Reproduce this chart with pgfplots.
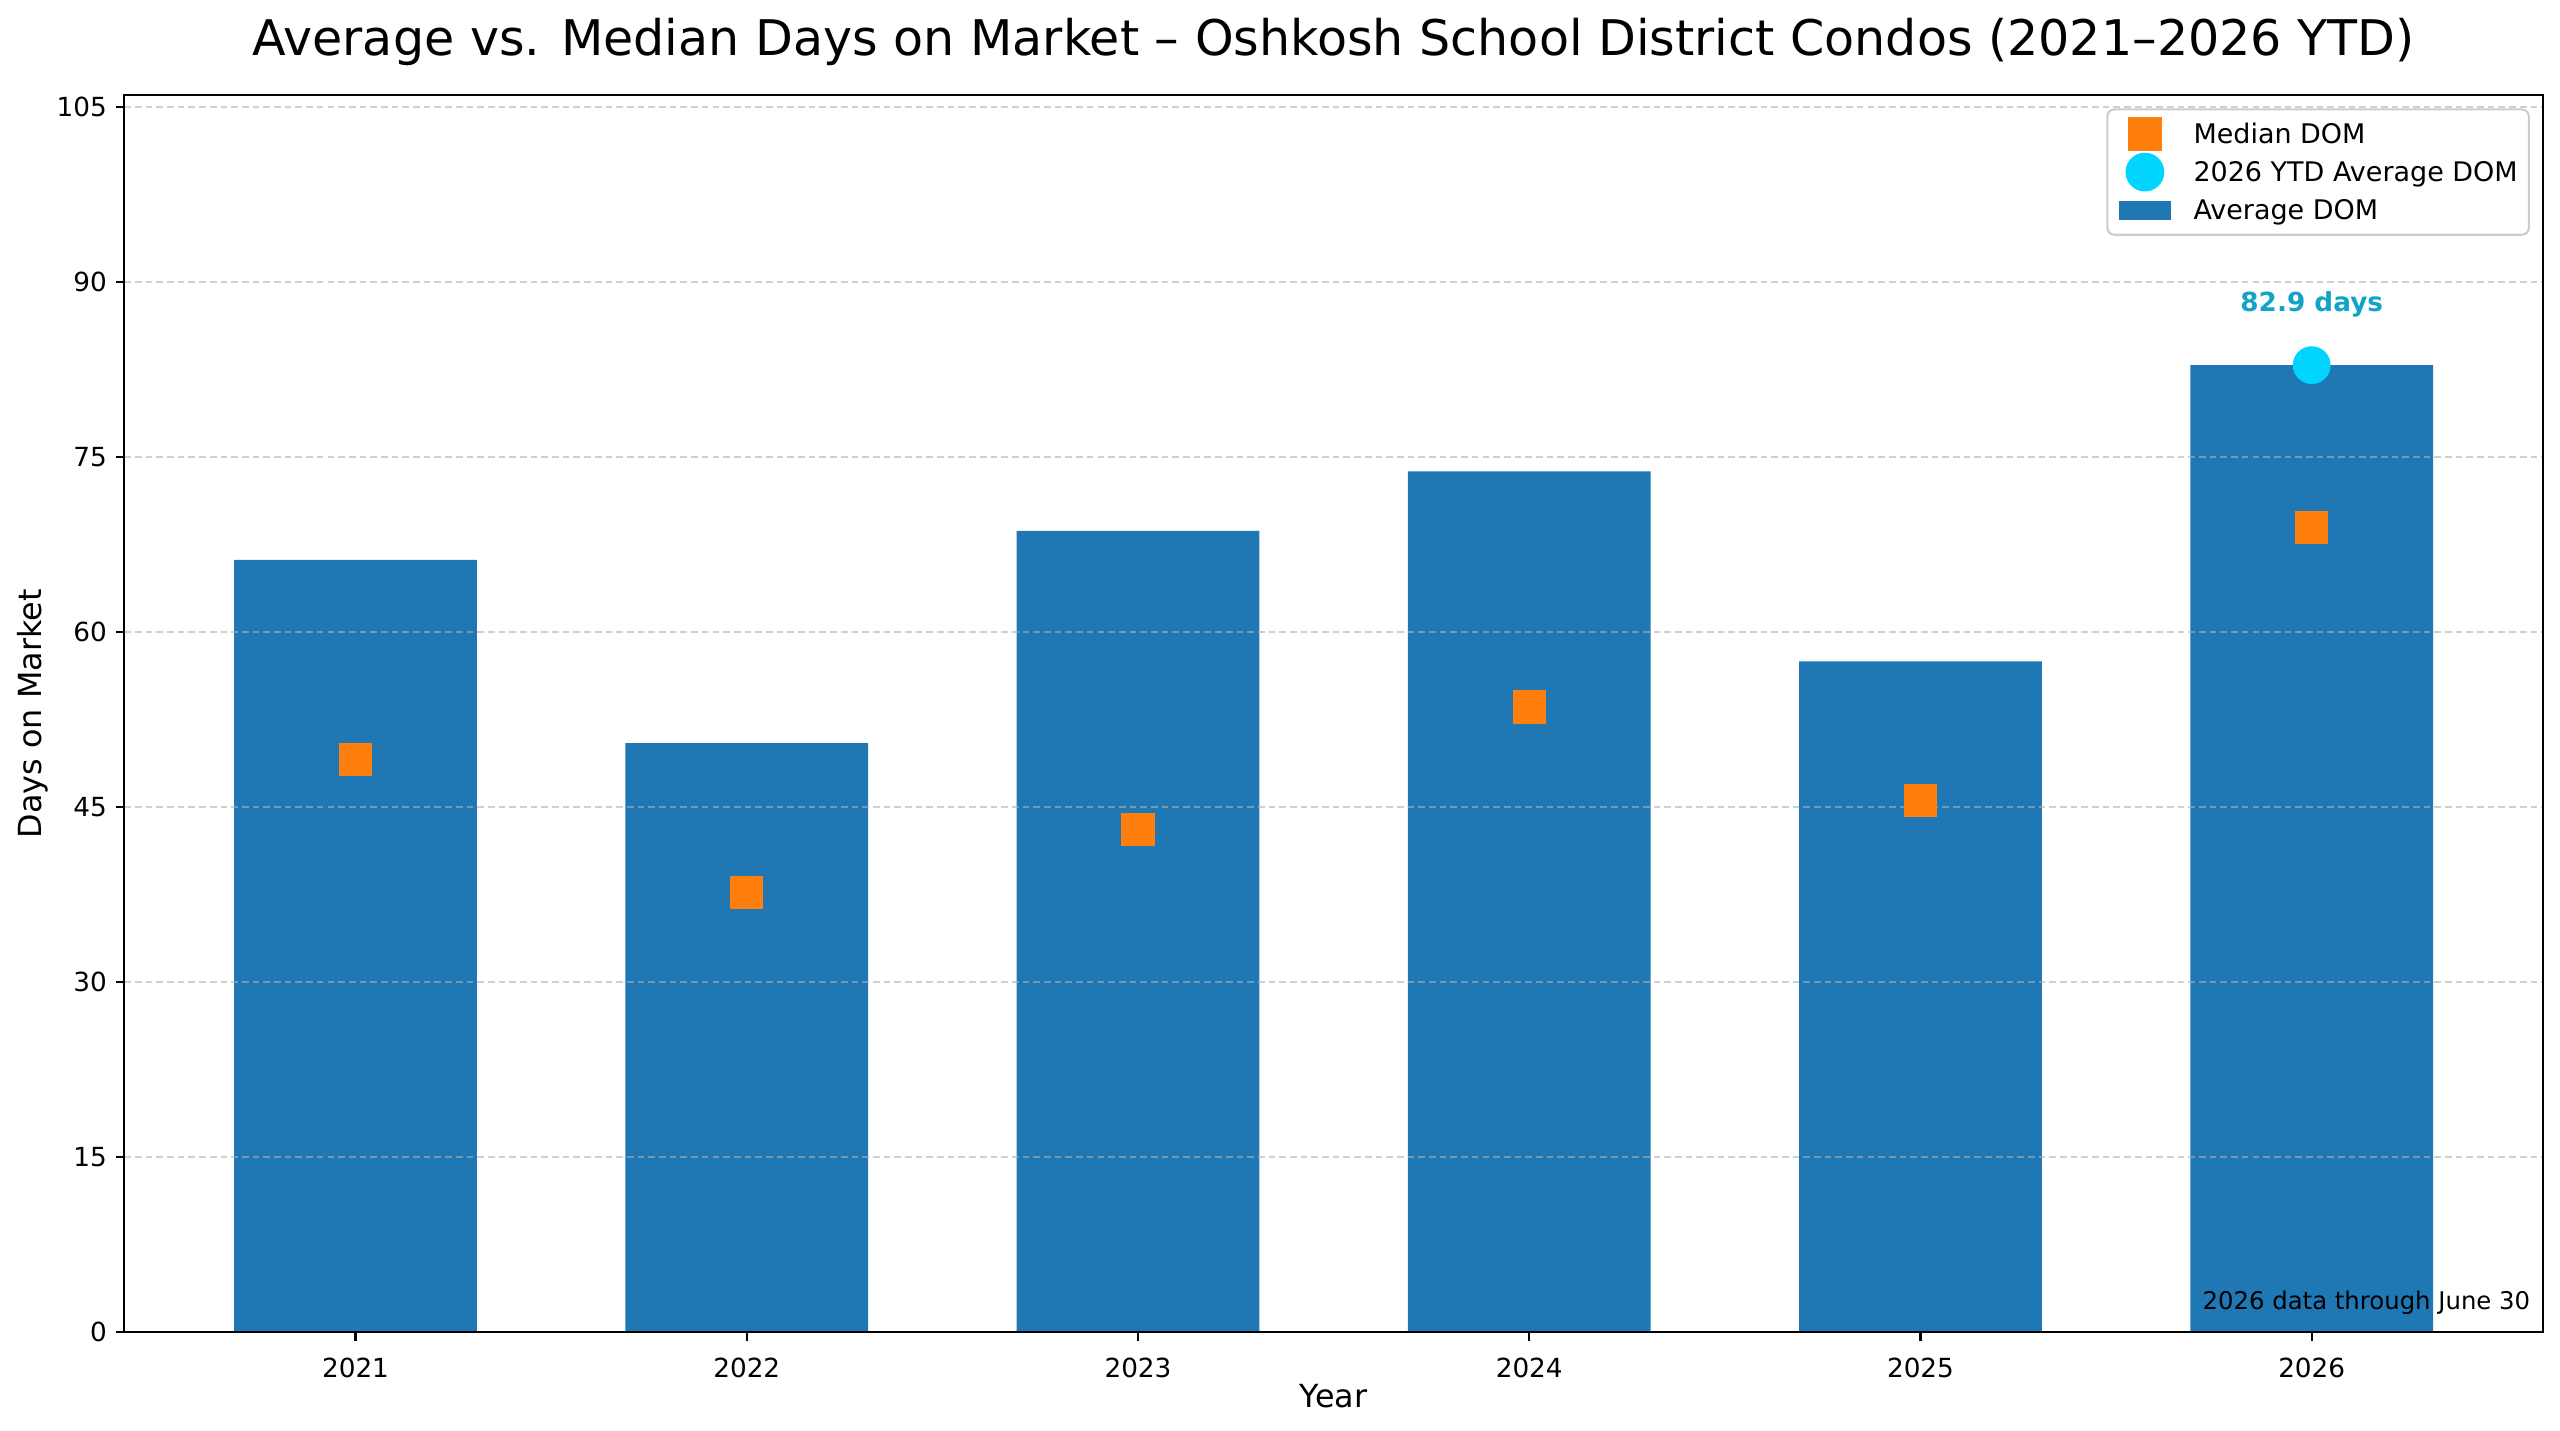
\documentclass[border=0pt]{standalone}
\usepackage{pgfplots}
\pgfplotsset{compat=1.18}
\usepackage{fontspec}
\setmainfont{DejaVu Sans}
\newfontfamily\boldff{DejaVu Sans Bold}
\definecolor{barblue}{HTML}{1F77B4}
\definecolor{medorange}{HTML}{FF7F0E}
\definecolor{ytdcyan}{HTML}{00D4FF}
\definecolor{annot}{HTML}{12A4C6}
\pgfplotsset{
  markleg/.style={legend image code/.code={\draw[mark repeat=2,mark phase=2,##1] plot coordinates {(0bp,0bp) (9.5bp,0bp) (19bp,0bp)};}},
  barleg/.style={legend image code/.code={\fill[barblue, sharp corners] (0bp,-3.4bp) rectangle (19bp,3.4bp);}},
}
\begin{document}
\begin{tikzpicture}
\path[use as bounding box] (-44.75bp,-35.53bp) rectangle (876.85bp,479.63bp);
\begin{axis}[
  scale only axis,
  width=870.7bp, height=445.4bp,
  xmin=-0.591, xmax=5.591,
  ymin=0, ymax=106.05,
  xtick={0,1,2,3,4,5},
  xticklabels={2021,2022,2023,2024,2025,2026},
  ytick={0,15,30,45,60,75,90,105},
  xtick pos=bottom, ytick pos=left,
  tick align=outside,
  major tick length=3bp,
  tick style={black, line width=0.75bp},
  axis line style={black, line width=0.75bp},
  /pgf/number format/assume math mode=true,
  ticklabel style={font=\fontsize{9.5}{11}\selectfont},
  xticklabel style={anchor=north, inner sep=0pt, yshift=-6.2bp},
  yticklabel style={anchor=east, inner sep=0pt, xshift=-3.1bp},
  ymajorgrids,
  major grid style={draw=black!31, opacity=0.6, line width=0.7bp, dash pattern=on 2.4bp off 1.45bp},
  axis on top,
  xlabel={Year},
  ylabel={Days on Market},
  label style={font=\fontsize{11.5}{13}\selectfont},
  xlabel style={at={([yshift=-27bp]rel axis cs:0.5,0)}, anchor=base, inner sep=0pt},
  ylabel style={at={([xshift=-29.7bp]rel axis cs:0,0.5)}, anchor=base, inner sep=0pt},
  every axis title shift=0pt,
  title={Average vs. Median Days on Market – Oshkosh School District Condos (2021–2026 YTD)},
  title style={at={([yshift=14.4bp]rel axis cs:0.5,1)}, anchor=base, inner sep=0pt, font=\fontsize{17.75}{20}\selectfont},
  reverse legend,
  legend style={at={(rel axis cs:1,1)}, anchor=north east, xshift=-4.7bp, yshift=-4.8bp,
    draw=black!20, line width=0.75bp, rounded corners=2.5bp, fill=white,
    inner xsep=4bp, inner ysep=2bp, column sep=8bp, row sep=0pt,
    font=\fontsize{9.75}{11}\selectfont,
    nodes={inner sep=0pt, text height=10.3bp, text depth=3.4bp}},
  legend cell align=left,
]
\addplot[ybar, bar width=0.62, fill=barblue, draw=none, barleg]
  coordinates {(0,66.2) (1,50.5) (2,68.7) (3,73.8) (4,57.5) (5,82.9)};
\addlegendentry{Average DOM}
\addplot[only marks, mark=*, mark size=6.6bp, color=ytdcyan, mark options={fill=ytdcyan, draw=none}, markleg]
  coordinates {(5,82.9)};
\addlegendentry{2026 YTD Average DOM}
\addplot[only marks, mark=square*, mark size=5.8bp, color=medorange, mark options={fill=medorange, draw=none}, markleg]
  coordinates {(0,49.1) (1,37.7) (2,43.1) (3,53.6) (4,45.6) (5,69.0)};
\addlegendentry{Median DOM}
\node[anchor=base, inner sep=0pt, text=annot, font=\boldff\fontsize{9.5}{11}\selectfont] at (axis cs:5,87.54) {82.9 days};
\node[anchor=base east, inner sep=0pt, font=\fontsize{8.8}{10}\selectfont] at ([xshift=-4.4bp,yshift=8.2bp]rel axis cs:1,0) {2026 data through June 30};
\end{axis}
\end{tikzpicture}
\end{document}
